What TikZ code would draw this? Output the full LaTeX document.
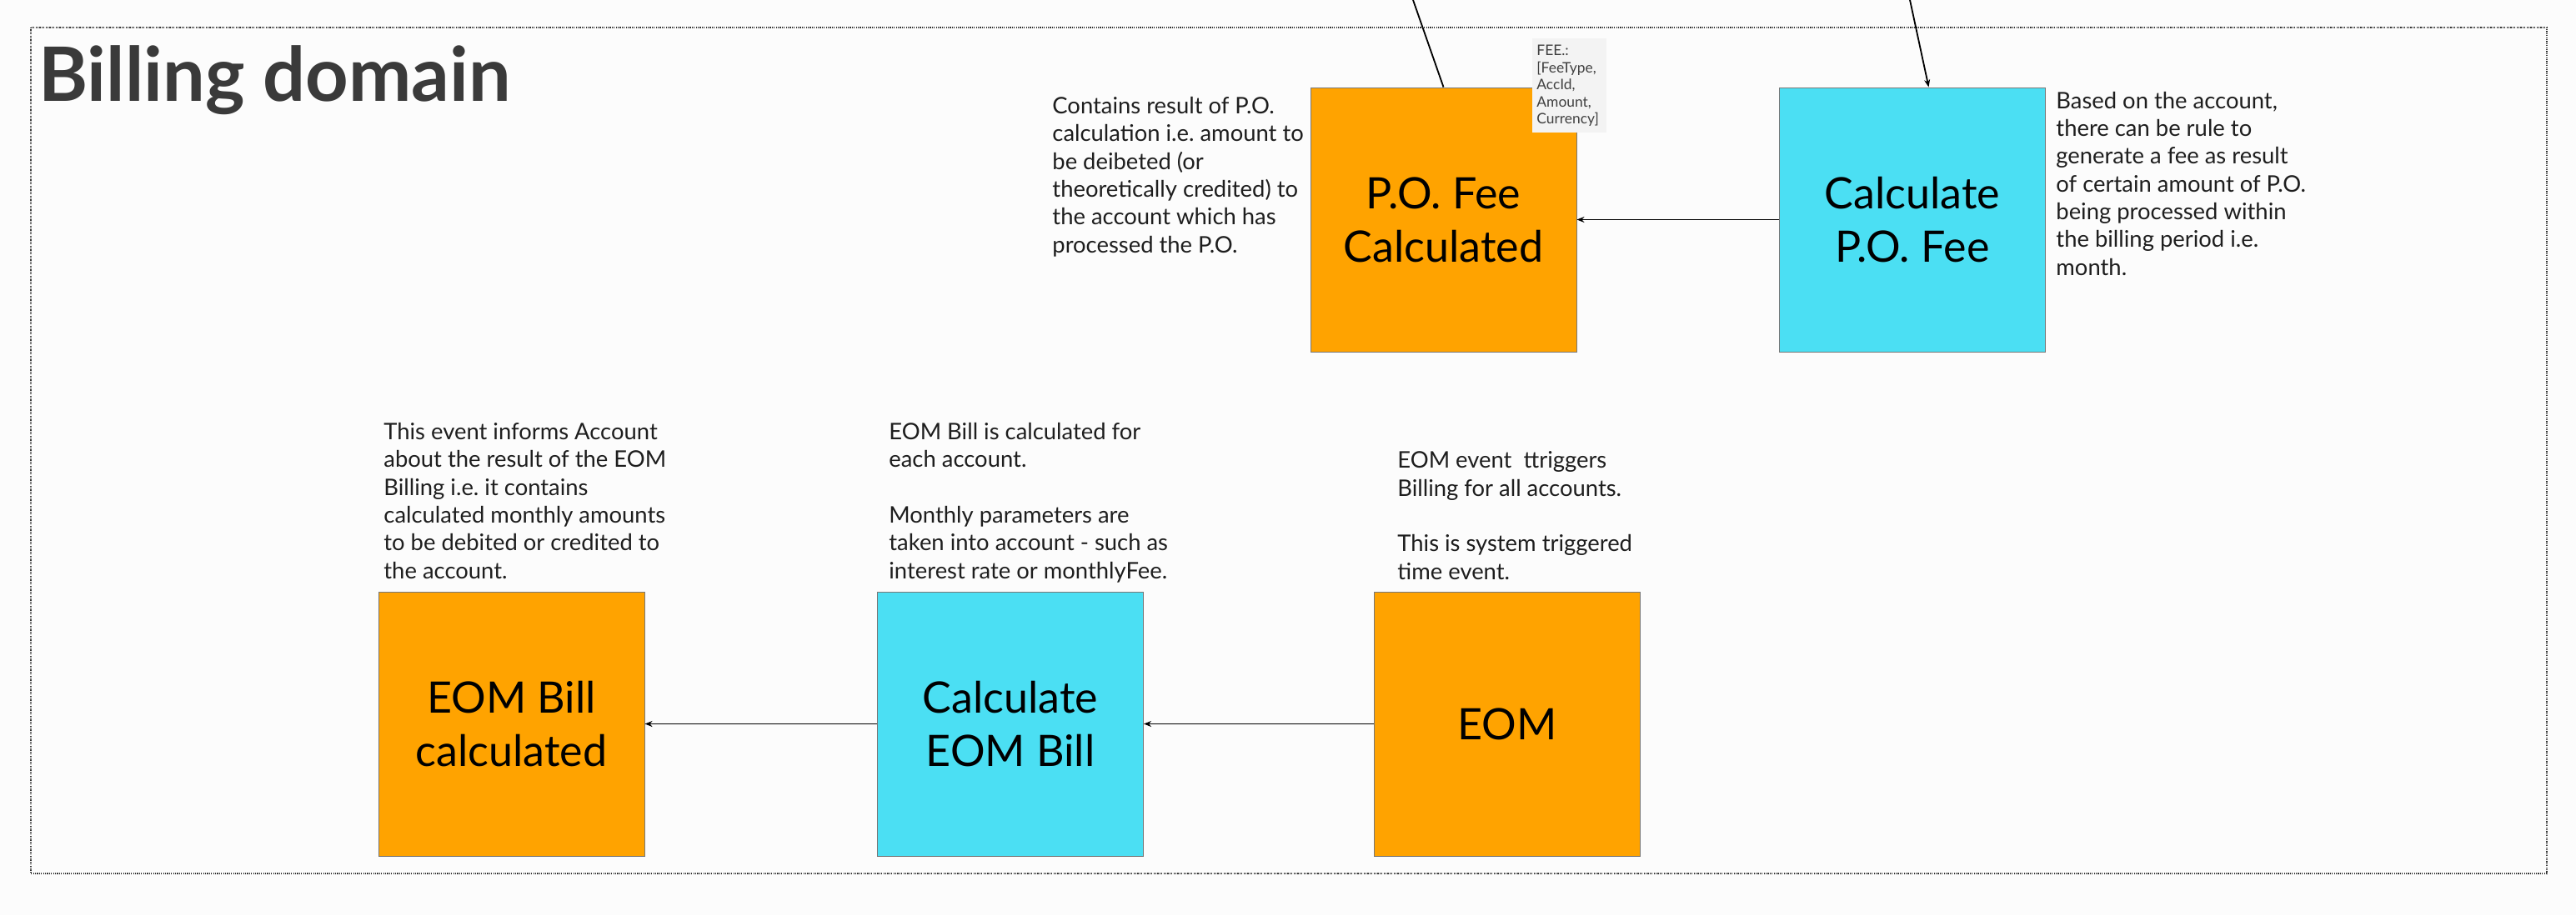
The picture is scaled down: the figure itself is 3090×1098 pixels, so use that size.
\documentclass[tikz,border=0pt]{standalone}
\usepackage{fontspec}
\setmainfont{Lato}
\usetikzlibrary{arrows.meta}
\frenchspacing

\definecolor{evtorange}{HTML}{FFA300}
\definecolor{cmdcyan}{HTML}{4BDFF3}
\definecolor{boxgray}{HTML}{777777}
\definecolor{bggray}{HTML}{FCFCFC}
\definecolor{framegray}{HTML}{333333}
\definecolor{titlegray}{HTML}{3A3A3A}
\definecolor{notetext}{HTML}{1E1E1E}
\definecolor{tagfill}{HTML}{F3F3F3}

\tikzstyle{event}=[rectangle,draw=boxgray,line width=0.5pt,fill=evtorange,minimum width=159.5pt,minimum height=158.5pt,align=center,font=\fontsize{26}{32}\selectfont]
\tikzstyle{command}=[event,fill=cmdcyan]
\tikzstyle{note}=[anchor=base west,align=left,inner sep=0pt,text=notetext,font=\fontsize{13.7}{16.65}\selectfont]
\tikzstyle{flow}=[-{Stealth[length=4.5pt,width=3.5pt]},line width=0.9pt,black]

\begin{document}
\begin{tikzpicture}[x=0.5pt,y=-0.5pt]
	\fill[bggray] (0,0) rectangle (3090,1098);
	\useasboundingbox (0,0) rectangle (3090,1098);
	\draw[framegray,line width=1pt,dash pattern=on 0.6pt off 0.6pt] (37,33) rectangle (3055,1048);

	\node (title) at (46,121) [anchor=base west,inner sep=0pt,text=titlegray,font=\fontsize{45}{52}\selectfont\bfseries] {Billing domain};

		\node (poCalc) at (1731.5,263.5) [event] {P.O. Fee\\Calculated};
		\node (calcPO) at (2294,263.5) [command] {Calculate\\P.O. Fee};

		\node (eomBill) at (613.5,868.5) [event] {EOM Bill\\calculated};
		\node (calcEOM) at (1212,868.5) [command] {Calculate\\EOM Bill};
		\node (eom) at (1808,868.5) [event] {EOM};

	\node (feeTag) at (1838,46) [anchor=north west,fill=tagfill,text width=39.5pt,inner xsep=2.5pt,minimum height=56.5pt,align=left,text=notetext!85,font=\fontsize{8.7}{10.25}\selectfont] {FEE.:\\{[}FeeType,\\AccId,\\Amount,\\Currency{]}};

	\node (poNote) at (1262,303) [note] {Contains result of P.O.\\calculation i.e. amount to\\be deibeted (or\\theoretically credited) to\\the account which has\\processed the P.O.};
	\node (feeNote) at (2466,330) [note] {Based on the account,\\there can be rule to\\generate a fee as result\\of certain amount of P.O.\\being processed within\\the billing period i.e.\\month.};
	\node (billNote) at (460,694) [note] {This event informs Account\\about the result of the EOM\\Billing i.e. it contains\\calculated monthly amounts\\to be debited or credited to\\the account.};
	\node (calcNote) at (1066,694) [note] {EOM Bill is calculated for\\each account.\\[16.65pt]Monthly parameters are\\taken into account - such as\\interest rate or monthlyFee.};
	\node (eomNote) at (1676,695) [note] {EOM event \ ttriggers\\Billing for all accounts.\\[16.65pt]This is system triggered\\time event.};

	\coordinate (poOut) at (1695,0);
	\coordinate (feeIn) at (2291,0);

	\draw [line width=0.9pt] (poCalc.north) to (poOut);
	\draw [flow] (feeIn) to (calcPO.83);

	\draw [flow] (calcPO.west) to (poCalc.east);
	\draw [flow] (eom.west) to (calcEOM.east);
	\draw [flow] (calcEOM.west) to (eomBill.east);

\end{tikzpicture}
\end{document}
